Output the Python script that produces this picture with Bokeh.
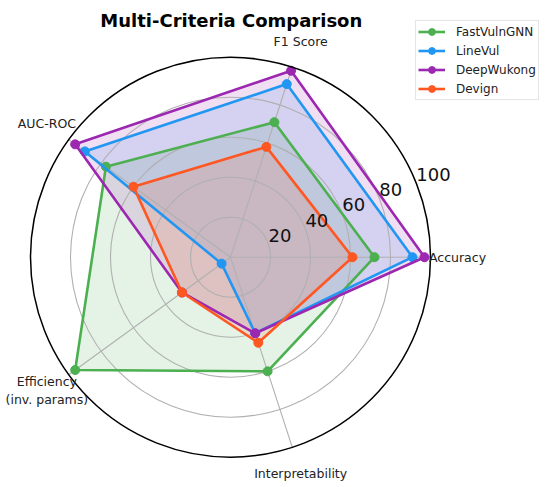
import numpy as np
from bokeh.plotting import figure
from bokeh.models import Range1d
from bokeh.embed import file_html
from bokeh.resources import INLINE
from bokeh.core.properties import value

# ---------------- data ----------------
categories = ["Accuracy", "F1 Score", "AUC-ROC", "Efficiency\n(inv. params)", "Interpretability"]
models = ["FastVulnGNN", "LineVul", "DeepWukong", "Devign"]
fastvulngnn = [72, 71, 77, 96, 60]
linevul = [91, 91, 90, 5.5, 40]
deepwukong = [97, 98, 96, 30, 40]
devign = [61, 58, 60, 30, 45]
radial_ticks = [20, 40, 60, 80, 100]
title_text = "Multi-Criteria Comparison"

# ---------------- style ----------------
colors = ["#4CAF50", "#2196F3", "#9C27B0", "#FF5722"]
series = [fastvulngnn, linevul, deepwukong, devign]
FONT = "DejaVu Sans"
r_max = 100
label_r = 113.5
rlabel_angle = np.deg2rad(22.5)

W, H = 550, 487
cx, cy = 230, 256.7   # canvas position of the polar centre
scale = 2.0           # px per data unit

p = figure(width=W, height=H, output_backend="svg", toolbar_location=None,
           x_axis_type=None, y_axis_type=None, title=None, min_border=0,
           x_range=Range1d(-cx / scale, (W - cx) / scale),
           y_range=Range1d(-(H - cy) / scale, cy / scale))
p.outline_line_color = None
p.grid.visible = False
p.background_fill_color = "white"
p.border_fill_color = "white"

n = len(categories)
theta = 2 * np.pi * np.arange(n) / n

# fills (below grid)
for vals, col in zip(series, colors):
    v = np.array(vals, dtype=float)
    xs = np.append(v * np.cos(theta), v[0] * np.cos(theta[0]))
    ys = np.append(v * np.sin(theta), v[0] * np.sin(theta[0]))
    p.patch(xs, ys, fill_color=col, fill_alpha=0.15, line_color=None)

# grid circles
p.circle(x=[0] * 4, y=[0] * 4, radius=radial_ticks[:-1], fill_color=None,
         line_color="#b0b0b0", line_width=1.1)
# spokes
p.segment(x0=[0] * n, y0=[0] * n, x1=r_max * np.cos(theta), y1=r_max * np.sin(theta),
          line_color="#b0b0b0", line_width=1.1)

# lines + markers
for vals, col, name in zip(series, colors, models):
    v = np.array(vals, dtype=float)
    xs = np.append(v * np.cos(theta), v[0] * np.cos(theta[0]))
    ys = np.append(v * np.sin(theta), v[0] * np.sin(theta[0]))
    p.line(xs, ys, line_color=col, line_width=2.6, legend_label=name)
    p.scatter(v * np.cos(theta), v * np.sin(theta), size=9, fill_color=col,
              line_color=col, legend_label=name)

# outer spine
p.circle(x=[0], y=[0], radius=[r_max], fill_color=None, line_color="black", line_width=1.5)

# radial tick labels
p.text(x=[t * np.cos(rlabel_angle) for t in radial_ticks],
       y=[t * np.sin(rlabel_angle) for t in radial_ticks],
       text=[str(t) for t in radial_ticks], x_offset=1,
       text_font=value(FONT), text_font_size="18px", text_color="#111111",
       text_align="left", text_baseline="bottom")

# category labels
p.text(x=label_r * np.cos(theta), y=label_r * np.sin(theta), text=categories,
       text_font=value(FONT), text_font_size="12.5px", text_color="#222222",
       text_align="center", text_baseline="middle", text_line_height=1.2)

# title
p.text(x=[0.4], y=[118.2], text=[title_text], text_font=value(FONT),
       text_font_size="18px", text_font_style="bold", text_color="black",
       text_align="center", text_baseline="alphabetic")

lg = p.legend[0]
lg.location = (415, 387)
lg.margin = 0
lg.padding = 2
lg.spacing = 2
lg.glyph_width = 27
lg.glyph_height = 17
lg.label_height = 17
lg.label_standoff = 11
lg.label_text_font = FONT
lg.label_text_font_size = "12px"
lg.label_text_color = "#222222"
lg.border_line_color = "#cccccc"
lg.border_line_width = 1
lg.background_fill_alpha = 0.85

open("out.html", "w").write(file_html(p, INLINE))
